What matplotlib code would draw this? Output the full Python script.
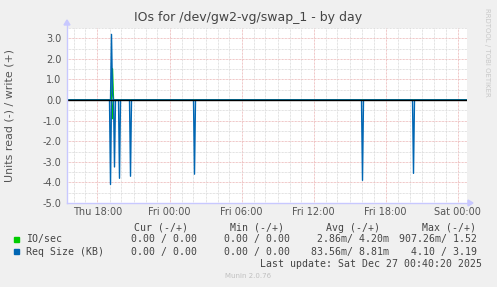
import numpy as np
import pandas as pd
import matplotlib
matplotlib.use('Agg')
import matplotlib.pyplot as plt
import matplotlib.dates as mdates
from matplotlib.ticker import MultipleLocator, FormatStrFormatter

# ---------------- data ----------------
title = "IOs for /dev/gw2-vg/swap_1 - by day"
ylabel = "Units read (-) / write (+)"
series_names = ["IO/sec", "Req Size (KB)"]
series_colors = ["#00cc00", "#0066b3"]

req_read_times = ["2025-12-25 19:05", "2025-12-25 19:25", "2025-12-25 19:50",
                  "2025-12-25 20:45", "2025-12-26 02:05", "2025-12-26 16:05",
                  "2025-12-26 20:20"]
req_read_vals = [4.10, 3.25, 3.80, 3.70, 3.60, 3.90, 3.56]
req_write_times = ["2025-12-25 19:10", "2025-12-25 19:15"]
req_write_vals = [3.19, 0.30]
io_read_times = ["2025-12-25 19:15"]
io_read_vals = [0.907]
io_write_times = ["2025-12-25 19:15"]
io_write_vals = [1.52]

stat_headers = ["Cur (-/+)", "Min (-/+)", "Avg (-/+)", "Max (-/+)"]
io_stats = ["0.00 / 0.00", "0.00 / 0.00", "2.86m/ 4.20m", "907.26m/ 1.52"]
req_stats = ["0.00 / 0.00", "0.00 / 0.00", "83.56m/ 8.81m", "4.10 / 3.19"]
last_update = "Last update: Sat Dec 27 00:40:20 2025"
version = "Munin 2.0.76"
watermark = "RRDTOOL / TOBI OETIKER"

range_start = "2025-12-25 15:25"
range_end = "2025-12-27 00:45"

# ---------------- build series ----------------
times = pd.date_range(range_start, range_end, freq="5min")

def build(tlist, vlist):
    s = pd.Series(0.0, index=times)
    for t, v in zip(tlist, vlist):
        s.loc[pd.Timestamp(t)] = v
    return s

io_read = build(io_read_times, io_read_vals)
io_write = build(io_write_times, io_write_vals)
req_read = build(req_read_times, req_read_vals)
req_write = build(req_write_times, req_write_vals)

# ---------------- figure ----------------
W, H = 497, 287
fig = plt.figure(figsize=(W / 100, H / 100), dpi=100, facecolor="#f0f0f0")
L, R, T, B = 67, 467, 28, 203
ax = fig.add_axes([L / W, 1 - B / H, (R - L) / W, (B - T) / H])
ax.set_facecolor("white")

txt = "#555555"
ax.plot(times, -io_read.values, color=series_colors[0], lw=1, zorder=2)
ax.plot(times, io_write.values, color=series_colors[0], lw=1, zorder=2)
ax.plot(times, -req_read.values, color=series_colors[1], lw=1, zorder=2.1)
ax.plot(times, req_write.values, color=series_colors[1], lw=1, zorder=2.1)
ax.axhline(0, color="black", lw=1, zorder=3)

t0 = pd.Timestamp("2025-12-25 18:00")
xl = t0 - pd.Timedelta(hours=30.5 / 12)
xr = xl + pd.Timedelta(hours=400 / 12)
ax.set_xlim(xl, xr)
ax.set_ylim(-5, 3.5)

ax.xaxis.set_major_locator(mdates.HourLocator(byhour=[0, 6, 12, 18]))
ax.xaxis.set_minor_locator(mdates.HourLocator())
ax.xaxis.set_major_formatter(mdates.DateFormatter("%a %H:%M"))
ax.yaxis.set_major_locator(MultipleLocator(1))
ax.yaxis.set_minor_locator(MultipleLocator(0.5))
ax.yaxis.set_major_formatter(FormatStrFormatter("%.1f"))

dot = (0, (0.72, 0.72))
ax.grid(which="major", color="#ebb4b4", lw=0.72, ls=dot, zorder=0)
ax.grid(which="minor", color="#d9d9d9", lw=0.72, ls=dot, zorder=0)
ax.set_axisbelow(True)

for s in ax.spines.values():
    s.set_visible(False)
ax.tick_params(which="both", length=0, labelsize=7, labelcolor=txt, pad=4)
ax.tick_params(axis="x", pad=3)

# axis lines with arrows (figure pixel coords)
axcol = "#c8c8ff"
def fx(px):
    return px / W
def fy(py):
    return 1 - py / H
fig.add_artist(plt.Line2D([fx(L), fx(L)], [fy(B), fy(24)], color=axcol, lw=1))
fig.add_artist(plt.Line2D([fx(L), fx(470)], [fy(B), fy(B)], color=axcol, lw=1))
fig.add_artist(plt.Polygon([[fx(L - 3), fy(25)], [fx(L + 3), fy(25)], [fx(L), fy(20)]],
                           closed=True, color=axcol))
fig.add_artist(plt.Polygon([[fx(468), fy(B - 3)], [fx(468), fy(B + 3)], [fx(473), fy(B)]],
                           closed=True, color=axcol))

fig.text(fx(248), fy(18), title, ha="center", va="center", fontsize=9, color="#444444")
fig.text(fx(10), fy(115), ylabel, ha="center", va="center", rotation=90,
         fontsize=7.9, color=txt)
fig.text(fx(487), fy(52), watermark, ha="center", va="center", rotation=270,
         fontsize=5, color="#c8c8c8")

mono = "DejaVu Sans Mono"
ms = 7.1
lc = "#444444"
hdr_x = [187.5, 283.5, 380.5, 476.5]
val_x = [197, 290, 389, 477]
for x, h in zip(hdr_x, stat_headers):
    fig.text(fx(x), fy(227.7), h, ha="right", va="center", family=mono, fontsize=ms, color=lc)
rows_y = [239.3, 251.7]
for name, col, stats, y in zip(series_names, series_colors, [io_stats, req_stats], rows_y):
    fig.add_artist(plt.Rectangle((fx(14), fy(y + 2.5)), 5 / W, 5 / H, color=col))
    fig.text(fx(26), fy(y), name, ha="left", va="center", family=mono, fontsize=ms, color=lc)
    for x, v in zip(val_x, stats):
        fig.text(fx(x), fy(y), v, ha="right", va="center", family=mono, fontsize=ms, color=lc)
fig.text(fx(482.5), fy(263.7), last_update, ha="right", va="center", family=mono,
         fontsize=ms, color=lc)
fig.text(fx(248), fy(276), version, ha="center", va="center", fontsize=5, color="#c0c0c0")

fig.savefig("out.png", dpi=100, facecolor=fig.get_facecolor())
